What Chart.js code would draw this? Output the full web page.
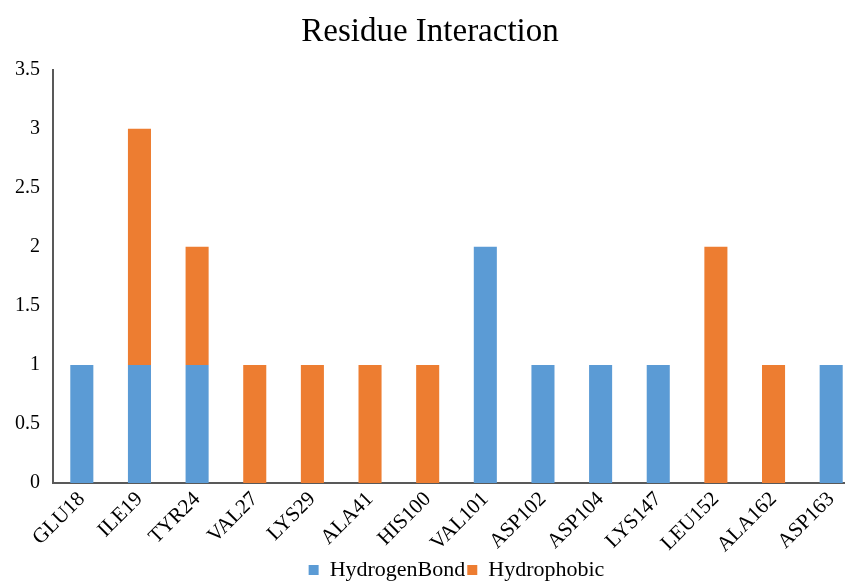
<!DOCTYPE html>
<html>
<head>
<meta charset="utf-8">
<script src="https://cdn.jsdelivr.net/npm/chart.js@4/dist/chart.umd.min.js"></script>
<style>
  html, body { margin:0; padding:0; background:#fff; overflow:hidden; }
  #wrap { width:860px; height:581px; position:relative; }
</style>
</head>
<body>
<div id="wrap"><canvas id="myChart"></canvas></div>
<script>
var residues=['GLU18','ILE19','TYR24','VAL27','LYS29','ALA41','HIS100','VAL101','ASP102','ASP104','LYS147','LEU152','ALA162','ASP163'];
var hydrogenBond=[1,1,1,0,0,0,0,2,1,1,1,0,0,1];
var hydrophobic=[0,2,1,1,1,1,1,0,0,0,0,2,1,0];
var yTicks=[0,0.5,1,1.5,2,2.5,3,3.5];

var serif="'Liberation Serif', 'Times New Roman', serif";

const data={
    labels:residues,
    datasets:[
        {
            label:'HydrogenBond',
            data:hydrogenBond,
            backgroundColor:'#5B9BD5',
            borderWidth:0,
            barPercentage:0.8,
            categoryPercentage:0.5
        },
        {
            label:'Hydrophobic',
            data:hydrophobic,
            backgroundColor:'#ED7D31',
            borderWidth:0,
            barPercentage:0.8,
            categoryPercentage:0.5
        }
    ]
};

const config={
    type:'bar',
    data,
    options:{
        responsive:true,
        maintainAspectRatio:false,
        animation:false,
        layout:{ padding:{ top:8, left:0, right:0, bottom:-10 } },
        scales:{
            x:{
                stacked:true,
                grid:{ display:false, drawTicks:false },
                border:{ color:'#595959', width:2 },
                ticks:{
                    color:'#000',
                    font:{ family:serif, size:21 },
                    maxRotation:45, minRotation:45,
                    padding:4
                },
                afterFit:function(s){ s.height=74; }
            },
            y:{
                stacked:true,
                min:0, max:3.5,
                afterBuildTicks:function(s){ s.ticks=yTicks.map(function(v){ return {value:v}; }); },
                grid:{ display:false, drawTicks:false },
                border:{ color:'#595959', width:2 },
                ticks:{
                    color:'#000',
                    font:{ family:serif, size:20 },
                    padding:13,
                    callback:function(v){ return String(v); }
                },
                afterFit:function(s){ s.width=53; }
            }
        },
        plugins:{
            title:{
                display:true,
                text:'Residue Interaction',
                color:'#000',
                font:{ family:serif, size:33, weight:'normal' },
                padding:{ top:5, bottom:17 }
            },
            legend:{
                position:'bottom',
                fullSize:false,
                labels:{
                    color:'#000',
                    font:{ family:serif, size:22 },
                    boxWidth:10, boxHeight:10,
                    padding:2
                }
            },
            tooltip:{ enabled:false }
        }
    }
};

const myChart=new Chart(document.getElementById('myChart'),config);
</script>
</body>
</html>
